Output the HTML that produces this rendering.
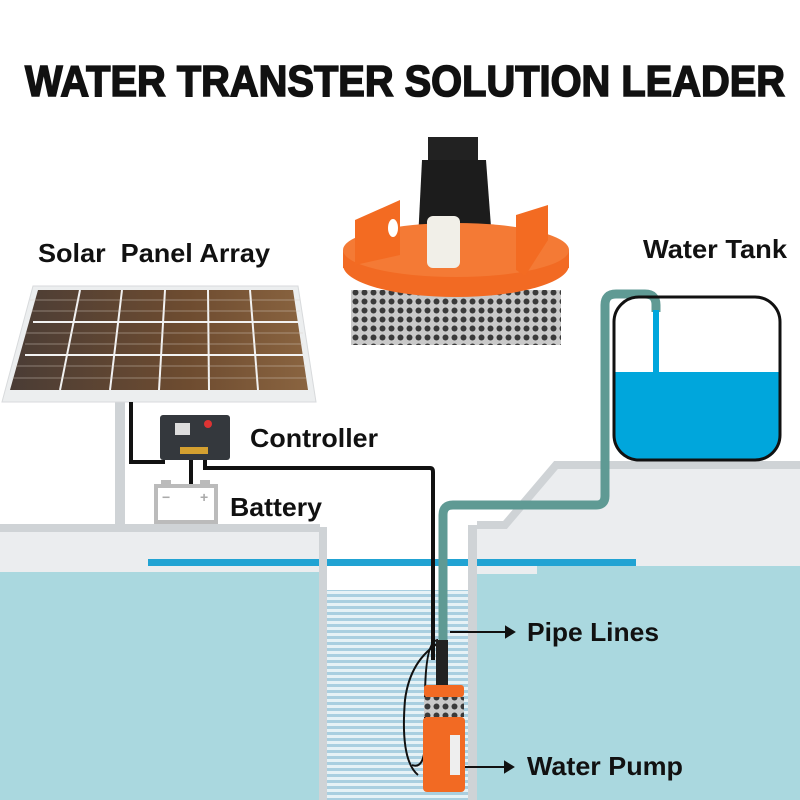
<!DOCTYPE html>
<html><head><meta charset="utf-8"><style>
html,body{margin:0;padding:0;background:#fff;width:800px;height:800px;overflow:hidden}
text{font-family:"Liberation Sans",sans-serif;font-weight:bold;fill:#111}
</style></head><body>
<svg width="800" height="800" viewBox="0 0 800 800" xmlns="http://www.w3.org/2000/svg">
<defs>
<linearGradient id="pg" x1="0" x2="1" y1="0" y2="0">
<stop offset="0" stop-color="#4a3c35"/><stop offset="0.6" stop-color="#6e4c30"/><stop offset="1" stop-color="#8a6440"/></linearGradient>
<pattern id="waves" width="20" height="6" patternUnits="userSpaceOnUse">
<rect width="20" height="6" fill="#e6f2f6"/><rect y="0" width="20" height="3" fill="#a9cfe0"/></pattern>
<pattern id="mesh" width="9" height="9" patternUnits="userSpaceOnUse">
<rect width="9" height="9" fill="#c9c9c9"/><circle cx="4.5" cy="4.5" r="3" fill="#3a3a3a"/></pattern>
</defs>
<text x="405" y="96" font-size="44" text-anchor="middle" textLength="760" lengthAdjust="spacingAndGlyphs" stroke="#111" stroke-width="1.6">WATER TRANSTER SOLUTION LEADER</text>

<!-- ground -->
<rect x="0" y="527" width="320" height="50" fill="#ebedef"/>
<rect x="0" y="524" width="320" height="8" fill="#cfd3d6"/>
<polygon points="477,525 505,525 556,465 800,465 800,570 477,570" fill="#ebedef"/>
<polyline points="477,525 505,525 556,465 800,465" fill="none" stroke="#cfd3d6" stroke-width="8"/>
<rect x="0" y="572" width="320" height="228" fill="#aad8df"/>
<rect x="477" y="566" width="323" height="234" fill="#aad8df"/>
<rect x="477" y="562" width="60" height="12" fill="#ebedef"/>
<rect x="148" y="559" width="488" height="7" fill="#21a3d3"/>
<!-- well -->
<rect x="327" y="590" width="141" height="210" fill="url(#waves)"/>
<rect x="319" y="527" width="8" height="273" fill="#cfd3d6"/>
<rect x="468" y="525" width="9" height="275" fill="#cfd3d6"/>

<!-- post -->
<rect x="115" y="398" width="10" height="130" fill="#cfd3d6"/>
<!-- panel -->
<polygon points="33,286 298,286 316,402 2,402" fill="#eceeef" stroke="#d8dadc"/>
<polygon points="38,290 293,290 308,390 10,390" fill="url(#pg)"/>
<g stroke="#f2f2f2" stroke-width="2">
<line x1="80" y1="290" x2="60" y2="390"/><line x1="122" y1="290" x2="110" y2="390"/><line x1="165" y1="290" x2="159" y2="390"/>
<line x1="208" y1="290" x2="209" y2="390"/><line x1="250" y1="290" x2="258" y2="390"/>
<line x1="33" y1="322" x2="298" y2="322"/><line x1="25" y1="355" x2="303" y2="355"/>
</g>
<g stroke="#d9cfc5" stroke-width="0.7" opacity="0.6">
<line x1="30" y1="300" x2="300" y2="300"/><line x1="30" y1="311" x2="300" y2="311"/><line x1="25" y1="333" x2="303" y2="333"/><line x1="25" y1="344" x2="303" y2="344"/><line x1="15" y1="366" x2="306" y2="366"/><line x1="12" y1="378" x2="306" y2="378"/>
</g>

<!-- wires -->
<path d="M131,402 V462 H165" fill="none" stroke="#111" stroke-width="4"/>
<path d="M205,460 V468 H430 Q433,468 433,472 V660" fill="none" stroke="#111" stroke-width="4"/>
<line x1="191" y1="458" x2="191" y2="485" stroke="#111" stroke-width="4"/>
<!-- controller -->
<rect x="160" y="415" width="70" height="45" rx="3" fill="#34383d"/>
<rect x="175" y="423" width="15" height="12" fill="#ddd"/>
<circle cx="208" cy="424" r="4" fill="#d33"/>
<rect x="180" y="447" width="28" height="7" fill="#d4a030"/>
<!-- battery -->
<rect x="156" y="486" width="60" height="36" fill="#fff" stroke="#bbb" stroke-width="4"/>
<rect x="161" y="480" width="10" height="6" fill="#bbb"/><rect x="200" y="480" width="10" height="6" fill="#bbb"/>
<text x="162" y="502" font-size="14" style="fill:#aaa">−</text><text x="200" y="502" font-size="14" style="fill:#aaa">+</text>

<!-- pipe -->
<path d="M443,655 V515 Q443,505 453,505 H596 Q605,505 605,496 V305 Q605,294 616,294 H645 Q656,294 656,305 V312" fill="none" stroke="#5f9a94" stroke-width="9"/>
<!-- tank -->
<path d="M614,372 H780 V435 Q780,460 755,460 H639 Q614,460 614,435 Z" fill="#00a6dc"/>
<rect x="653" y="310" width="6" height="64" fill="#00a6dc"/>
<rect x="614" y="297" width="166" height="163" rx="25" fill="none" stroke="#111" stroke-width="3"/>

<!-- product image -->
<rect x="428" y="137" width="50" height="40" fill="#222"/>
<path d="M422,160 H486 L492,240 H418 Z" fill="#1c1c1c"/>
<rect x="351" y="290" width="210" height="55" fill="url(#mesh)"/>
<ellipse cx="456" cy="265" rx="113" ry="32" fill="#f26a23"/>
<rect x="343" y="250" width="226" height="18" fill="#f26a23"/>
<ellipse cx="456" cy="250" rx="113" ry="27" fill="#f47a35"/>
<path d="M355,220 L400,200 V255 L355,265 Z" fill="#f36b22"/>
<ellipse cx="393" cy="228" rx="5" ry="9" fill="#fff"/>
<path d="M516,215 L548,205 V240 L525,276 L516,270 Z" fill="#f36b22"/>
<rect x="427" y="216" width="33" height="52" rx="6" fill="#f1efe8"/>

<!-- pump in well -->
<path d="M438,640 Q425,640 425,700 V740 Q425,770 412,765" fill="none" stroke="#111" stroke-width="2"/>
<path d="M440,642 Q410,660 405,700 Q400,760 418,775" fill="none" stroke="#111" stroke-width="2"/>
<rect x="436" y="640" width="12" height="48" fill="#222"/>
<rect x="424" y="685" width="40" height="12" rx="3" fill="#f26a23"/>
<rect x="424" y="697" width="40" height="20" fill="url(#mesh)"/>
<rect x="423" y="717" width="42" height="75" rx="4" fill="#f26a23"/>
<rect x="450" y="735" width="10" height="40" fill="#eee"/>

<!-- arrows -->
<g stroke="#111" stroke-width="2" fill="#111">
<line x1="450" y1="632" x2="508" y2="632"/><polygon points="514,632 506,627 506,637"/>
<line x1="465" y1="767" x2="506" y2="767"/><polygon points="513,767 505,762 505,772"/>
</g>

<text x="38" y="262" font-size="26" xml:space="preserve" textLength="232" lengthAdjust="spacingAndGlyphs">Solar  Panel Array</text>
<text x="643" y="258" font-size="26" textLength="144" lengthAdjust="spacingAndGlyphs">Water Tank</text>
<text x="250" y="447" font-size="26" textLength="128" lengthAdjust="spacingAndGlyphs">Controller</text>
<text x="230" y="516" font-size="26" textLength="92" lengthAdjust="spacingAndGlyphs">Battery</text>
<text x="527" y="641" font-size="26" textLength="132" lengthAdjust="spacingAndGlyphs">Pipe Lines</text>
<text x="527" y="775" font-size="26" textLength="156" lengthAdjust="spacingAndGlyphs">Water Pump</text>
</svg>
</body></html>
